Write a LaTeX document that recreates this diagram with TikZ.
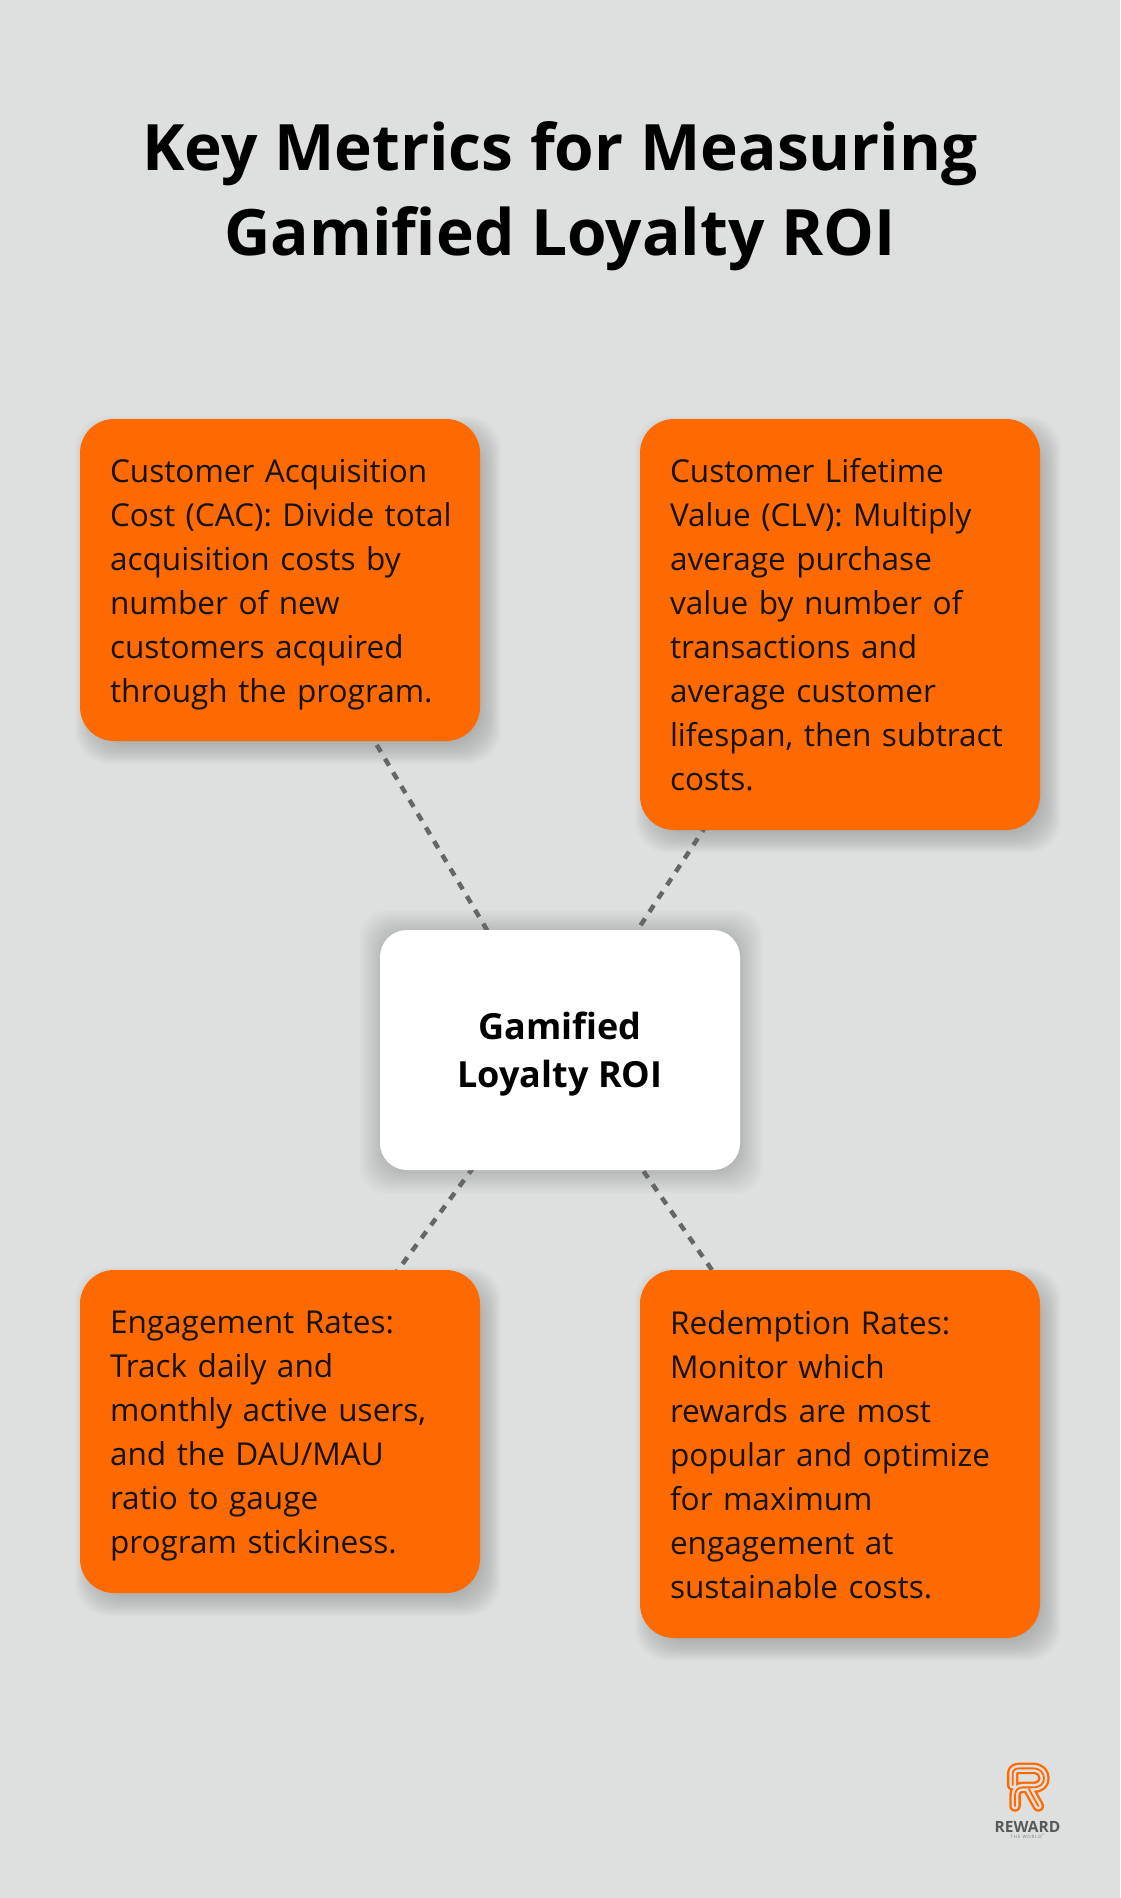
\documentclass[tikz,border=0pt]{standalone}
\usepackage{fontspec}
\setmainfont{Open Sans}
\pgfdeclarelayer{bglayer}
\pgfdeclarelayer{shadowlayer}
\pgfdeclarelayer{connlayer}
\pgfsetlayers{bglayer,shadowlayer,connlayer,main}
\definecolor{bgc}{HTML}{DEE0DF}
\definecolor{orng}{HTML}{FF6A00}
\definecolor{dashc}{HTML}{666666}
\definecolor{shad}{HTML}{5A5F5F}
\definecolor{logog}{HTML}{58595B}
\tikzset{
  x=1pt,y=-1pt,
  card/.style={draw=none,fill=orng,rounded corners=34pt,minimum width=400pt,inner xsep=30pt,inner ysep=0pt,
    text width=340pt,align=left,text=black!92,font=\fontsize{31.55}{44}\selectfont},
  hub/.style={draw=none,fill=white,rounded corners=27pt,minimum width=360pt,minimum height=240pt,inner sep=0pt,
    align=center,text=black,font=\fontsize{36}{48}\selectfont\bfseries},
  titletext/.style={align=center,text=black,inner sep=0pt,font=\fontsize{64}{85}\selectfont\bfseries},
  link/.style={draw=dashc,line width=4.5pt,dash pattern=on 8pt off 8pt},
  ribbon/.style={line cap=round,line join=round},
}
\newcommand{\softshadow}[6]{% node, dx, dy, radius, outermost growth, opacity
  \foreach \i in {0,...,19}{
    \pgfmathsetmacro{\g}{#5-1.2*\i}
    \fill[shad,opacity=#6,rounded corners=#4pt]
      ([xshift=#2pt-\g pt,yshift=-#3pt+\g pt]#1.north west) rectangle ([xshift=#2pt+\g pt,yshift=-#3pt-\g pt]#1.south east);
  }
}
\newcommand{\Rpath}{
  (158,165) -- (158,132) .. controls (158,120) and (166,115) .. (178,115) -- (218,115)
  .. controls (240,115) and (252,128) .. (252,145) .. controls (252,162) and (240,172) .. (218,172)
  -- (188,172) .. controls (174,172) and (165,182) .. (165,196) -- (165,228)
  (207,178) -- (235,228)
}
\newcommand{\topstrut}{\rule{0pt}{38pt}}
\begin{document}
\begin{tikzpicture}
\useasboundingbox (0,0) rectangle (1120,1898);
\begin{pgfonlayer}{bglayer}
\fill[bgc] (0,0) rectangle (1120,1898);
\end{pgfonlayer}

\node[titletext] (title) at (560,196.5) {Key Metrics for Measuring\\Gamified Loyalty ROI};

\node[card,minimum height=322pt] (tl) at (280,580) {\topstrut Customer Acquisition\\\mbox{Cost (CAC): Divide total}\\acquisition costs by\\number of new\\customers acquired\\through the program.\strut};
\node[card,minimum height=411pt] (tr) at (840,624.5) {\topstrut Customer Lifetime\\Value (CLV): Multiply\\average purchase\\value by number of\\transactions and\\average customer\\lifespan, then subtract\\costs.\strut};
\node[hub] (hub) at (560,1050) {\rule{0pt}{36pt}Gamified\\Loyalty ROI};
\node[card,minimum height=323pt] (bl) at (280,1431.5) {\topstrut Engagement Rates:\\Track daily and\\monthly active users,\\and the DAU/MAU\\ratio to gauge\\program stickiness.\strut};
\node[card,minimum height=368pt] (br) at (840,1454) {\topstrut Redemption Rates:\\Monitor which\\rewards are most\\popular and optimize\\for maximum\\engagement at\\sustainable costs.\strut};

\begin{pgfonlayer}{connlayer}
\draw[link] ([xshift=-1.5pt]tl.center) -- ([xshift=-1.5pt]hub.center);
\draw[link] ([xshift=-1.5pt]tr.center) -- ([xshift=-1.5pt]hub.center);
\draw[link] ([xshift=-0.5pt]bl.center) -- ([xshift=-0.5pt]hub.center);
\draw[link] ([xshift=-0.5pt]br.center) -- ([xshift=-0.5pt]hub.center);
\end{pgfonlayer}
\begin{pgfonlayer}{shadowlayer}
\softshadow{tl}{8}{10}{34}{13}{0.018}
\softshadow{tr}{8}{10}{34}{13}{0.018}
\softshadow{bl}{8}{10}{34}{13}{0.018}
\softshadow{br}{8}{10}{34}{13}{0.018}
\softshadow{hub}{1}{2}{27}{22}{0.011}
\end{pgfonlayer}

% logo
\begin{scope}[shift={(960,1730)},x=0.3333pt,y=-0.3333pt]
\draw[orng,ribbon,line width=11.5pt] \Rpath;
\draw[bgc,ribbon,line width=6.8pt] \Rpath;
\draw[orng,ribbon,line width=1.8pt] \Rpath;
\end{scope}
\node[inner sep=0pt,text=logog,font=\fontsize{15.5}{16}\selectfont\bfseries] (rw) at (1027.5,1827) {REWARD};
\node[inner sep=0pt,text=logog!80,font=\fontsize{4.5}{5}\selectfont] (tw) at (1027.5,1836) {T\,H\,E\,\,\,W\,O\,R\,L\,D\textsuperscript{™}};
\end{tikzpicture}
\end{document}
